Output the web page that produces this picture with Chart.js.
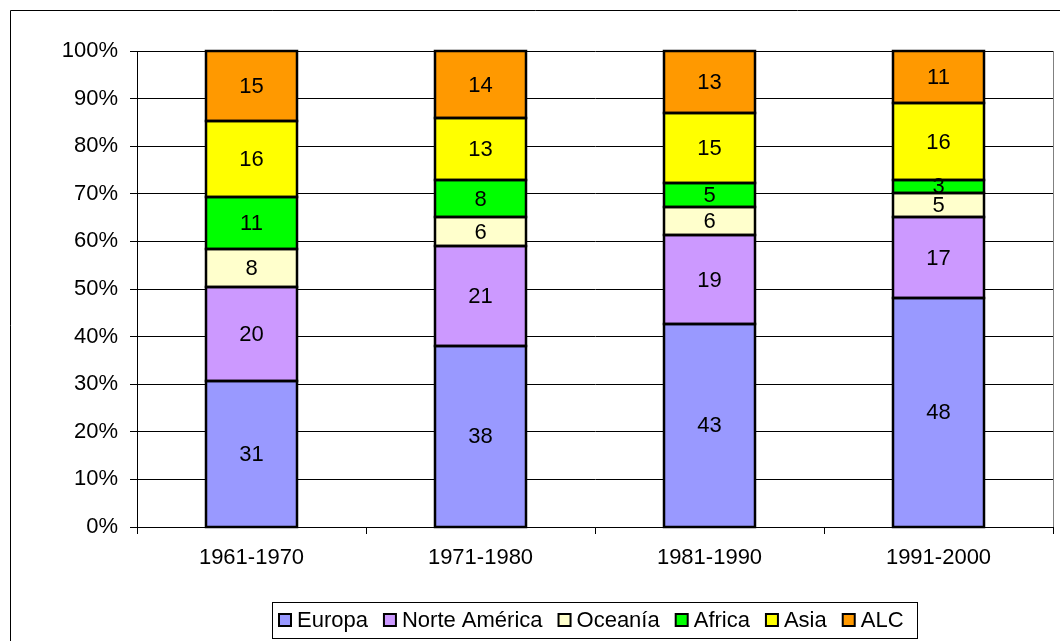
<!DOCTYPE html>
<html>
<head>
<meta charset="utf-8">
<script src="https://cdn.jsdelivr.net/npm/chart.js@4/dist/chart.umd.min.js"></script>
<style>
  html, body { margin: 0; padding: 0; background: #fff; }
  canvas { display: block; }
</style>
</head>
<body>
<canvas id="cnv" width="1060" height="641"></canvas>
<script>
(function(){

    var periods = ["1961-1970", "1971-1980", "1981-1990", "1991-2000"];
    var regions = ["Europa", "Norte América", "Oceanía", "Africa", "Asia", "ALC"];

    // share of each region (%), per period
    var europa       = [30.7, 38.0, 42.6, 48.1];
    var norteAmerica = [19.7, 21.0, 18.7, 17.0];
    var oceania      = [8.0, 6.1, 5.9, 5.1];
    var africa       = [10.9, 7.8, 5.1, 2.7];
    var asia         = [16.0, 13.0, 14.7, 16.2];
    var alc          = [14.7, 14.1, 13.0, 10.9];

    var yTicks = [0, 10, 20, 30, 40, 50, 60, 70, 80, 90, 100];

    var colors = ["#9999FF", "#CC99FF", "#FFFFCC", "#00FF00", "#FFFF00", "#FF9900"];
    var series = [europa, norteAmerica, oceania, africa, asia, alc];

    var font = "Liberation Sans, Arial, sans-serif";
    var fsize = 22;

    var datasets = series.map(function(vals, i){
        return {
            label: regions[i],
            data: vals,
            backgroundColor: colors[i],
            borderWidth: 0,
            barPercentage: 0.4,
            categoryPercentage: 1.0
        };
    });

    // frame, plot border, bar outlines, value labels and legend
    var extras = {
        id: "extras",
        afterDatasetsDraw: function(chart){
            var ctx = chart.ctx;
            ctx.save();
            // outlines
            ctx.strokeStyle = "#000";
            ctx.lineWidth = 2.5;
            chart.data.datasets.forEach(function(ds, di){
                chart.getDatasetMeta(di).data.forEach(function(bar){
                    var l = Math.round(bar.x - bar.width / 2);
                    var r = Math.round(bar.x + bar.width / 2);
                    var t = Math.round(bar.y);
                    var b = Math.round(bar.base);
                    ctx.strokeRect(l, t, r - l, b - t);
                });
            });
            // labels
            ctx.font = fsize + "px " + font;
            ctx.fillStyle = "#000";
            ctx.textAlign = "center";
            ctx.textBaseline = "middle";
            chart.data.datasets.forEach(function(ds, di){
                chart.getDatasetMeta(di).data.forEach(function(bar, i){
                    var mid = (bar.y + bar.base) / 2;
                    ctx.fillText(String(Math.round(ds.data[i])), bar.x, mid + 1);
                });
            });
            ctx.restore();
        },
        afterDraw: function(chart){
            var ctx = chart.ctx;
            var ca = chart.chartArea;
            ctx.save();
            // outer frame
            ctx.strokeStyle = "#000";
            ctx.lineWidth = 1;
            ctx.beginPath();
            ctx.moveTo(10.5, 641);
            ctx.lineTo(10.5, 10.5);
            ctx.lineTo(1060, 10.5);
            ctx.stroke();
            // plot area right edge
            ctx.strokeStyle = "#808080";
            ctx.beginPath();
            ctx.moveTo(Math.round(ca.right) + 0.5, ca.top);
            ctx.lineTo(Math.round(ca.right) + 0.5, ca.bottom);
            ctx.stroke();

            // legend
            ctx.strokeStyle = "#000";
            ctx.strokeRect(272.5, 602.5, 645, 36);
            ctx.font = fsize + "px " + font;
            ctx.textAlign = "left";
            ctx.textBaseline = "middle";
            var x = 279;
            var cy = 620;
            chart.data.datasets.forEach(function(ds){
                ctx.fillStyle = ds.backgroundColor;
                ctx.fillRect(x, cy - 6, 12, 12);
                ctx.lineWidth = 2;
                ctx.strokeStyle = "#000";
                ctx.strokeRect(x, cy - 6, 12, 12);
                ctx.fillStyle = "#000";
                ctx.fillText(ds.label, x + 18, cy + 1);
                x += 18 + ctx.measureText(ds.label).width + 16;
            });
            ctx.restore();
        }
    };

    var myChart = new Chart(document.getElementById("cnv"), {
        type: "bar",
        data: { labels: periods, datasets: datasets },
        plugins: [extras],
        options: {
            responsive: false,
            animation: false,
            devicePixelRatio: 1,
            layout: { padding: { left: 0, top: 51, right: 7, bottom: 64 } },
            plugins: {
                legend: { display: false },
                tooltip: { enabled: false }
            },
            scales: {
                x: {
                    stacked: true,
                    afterFit: function(axis){ axis.height = 50; },
                    grid: {
                        offset: true,
                        drawOnChartArea: false,
                        drawTicks: true,
                        tickLength: 7,
                        color: "#000"
                    },
                    border: { color: "#000", width: 1 },
                    ticks: {
                        color: "#000",
                        font: { family: font, size: fsize },
                        padding: 11
                    }
                },
                y: {
                    stacked: true,
                    min: 0,
                    max: 100,
                    afterFit: function(axis){ axis.width = 137; },
                    afterBuildTicks: function(axis){
                        axis.ticks = yTicks.map(function(v){ return { value: v }; });
                    },
                    grid: {
                        color: "#000",
                        lineWidth: 1,
                        tickLength: 7
                    },
                    border: { color: "#000", width: 1 },
                    ticks: {
                        color: "#000",
                        font: { family: font, size: fsize },
                        padding: 12,
                        callback: function(v){ return v + "%"; }
                    }
                }
            }
        }
    });

})();
</script>
</body>
</html>
